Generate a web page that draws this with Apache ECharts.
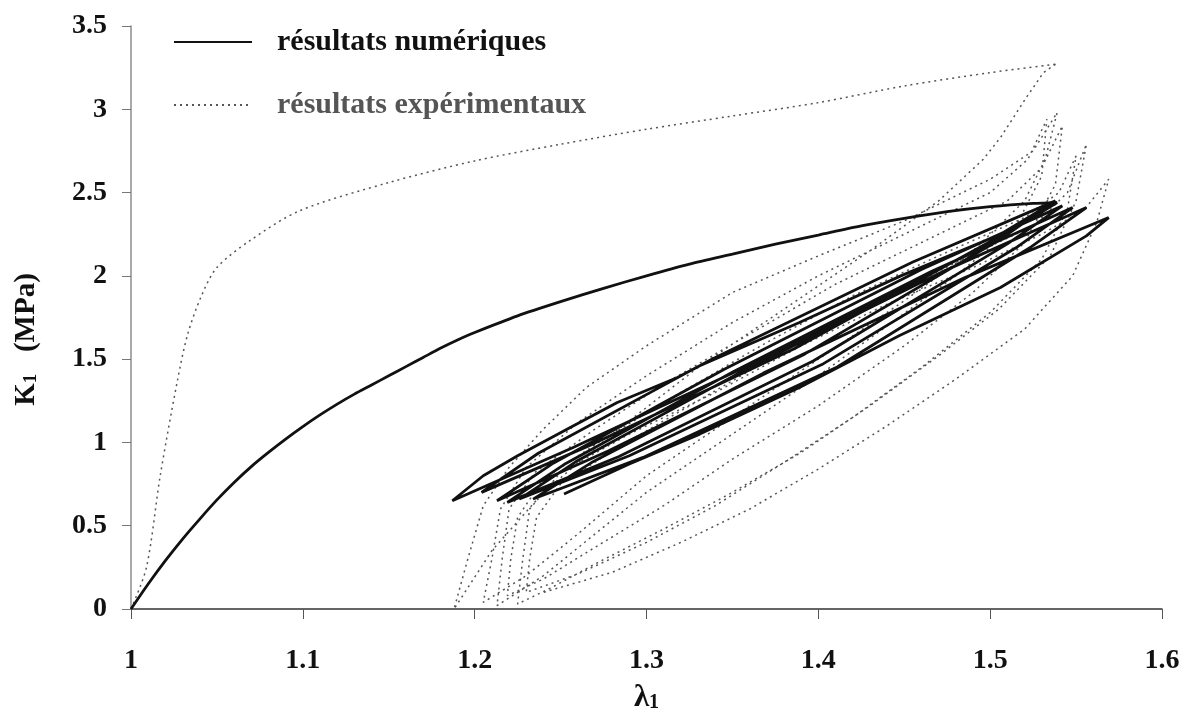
<!DOCTYPE html>
<html>
<head>
<meta charset="utf-8">
<title>K1 - lambda1</title>
<script src="https://cdn.jsdelivr.net/npm/echarts@6.0.0/dist/echarts.min.js"></script>
<style>
html,body{margin:0;padding:0;background:#fff;}
#chart{width:1188px;height:718px;}
</style>
</head>
<body>
<div id="chart"></div>
<script>
// 图例名称
var serieNames = ['résultats numériques', 'résultats expérimentaux'];

// 坐标轴刻度
var xTicks = [1, 1.1, 1.2, 1.3, 1.4, 1.5, 1.6];
var yTicks = [0, 0.5, 1, 1.5, 2, 2.5, 3, 3.5];

// 数值结果：首次加载曲线 [lambda1, K1]
var numLoad = [
	[1, 0], [1.01, 0.15], [1.02, 0.29], [1.03, 0.42], [1.04, 0.54], [1.05, 0.655],
	[1.06, 0.76], [1.07, 0.855], [1.08, 0.94], [1.09, 1.02], [1.1, 1.095], [1.11, 1.165],
	[1.12, 1.23], [1.13, 1.29], [1.14, 1.345], [1.15, 1.4], [1.16, 1.455], [1.17, 1.51],
	[1.18, 1.565], [1.19, 1.615], [1.2, 1.66], [1.225, 1.76], [1.25, 1.845], [1.275, 1.925],
	[1.3, 2.0], [1.325, 2.07], [1.35, 2.13], [1.375, 2.19], [1.4, 2.245], [1.425, 2.3],
	[1.45, 2.345], [1.475, 2.385], [1.5, 2.415], [1.525, 2.435], [1.539, 2.44]
];

// 数值结果：循环（卸载/再加载）
var numCycles = [
	[1.539, 2.44],
	[1.504, 2.22], [1.381, 1.565], [1.257, 0.968], [1.187, 0.65],
	[1.205, 0.80], [1.225, 0.92], [1.254, 1.08], [1.283, 1.24], [1.318, 1.39], [1.331, 1.46],
	[1.389, 1.72], [1.448, 2.0], [1.506, 2.25], [1.535, 2.43],
	[1.502, 2.217], [1.386, 1.562], [1.270, 0.996], [1.204, 0.70],
	[1.237, 0.935], [1.338, 1.50], [1.455, 2.083], [1.538, 2.45],
	[1.506, 2.22], [1.392, 1.53], [1.278, 0.95], [1.213, 0.65],
	[1.246, 0.877], [1.345, 1.438], [1.460, 2.038], [1.542, 2.42],
	[1.510, 2.192], [1.397, 1.489], [1.284, 0.916], [1.219, 0.64],
	[1.252, 0.867], [1.351, 1.428], [1.466, 2.028], [1.548, 2.41],
	[1.516, 2.175], [1.403, 1.473], [1.290, 0.92], [1.226, 0.66],
	[1.259, 0.885], [1.358, 1.44], [1.474, 2.033], [1.556, 2.41],
	[1.524, 2.175], [1.411, 1.453], [1.298, 0.91], [1.234, 0.66],
	[1.268, 0.879], [1.368, 1.416], [1.485, 1.988], [1.569, 2.35],
	[1.556, 2.24], [1.506, 1.93], [1.447, 1.64], [1.389, 1.33], [1.331, 1.05], [1.29, 0.87], [1.252, 0.69]
];

// 实验结果：首次加载曲线
var expLoad = [
	[1.0, 0], [1.009, 0.25], [1.017, 0.8], [1.027, 1.37], [1.033, 1.65], [1.041, 1.88],
	[1.05, 2.05], [1.069, 2.21], [1.098, 2.39], [1.15, 2.56], [1.2, 2.69], [1.25, 2.79],
	[1.3, 2.88], [1.35, 2.96], [1.4, 3.04], [1.45, 3.14], [1.5, 3.22], [1.538, 3.27]
];

// 实验结果：循环
var expCycles = [
	[1.538, 3.27],
	[1.531, 3.22], [1.521, 3.07], [1.506, 2.83], [1.496, 2.70], [1.47, 2.45], [1.43, 2.15],
	[1.38, 1.8], [1.33, 1.45], [1.28, 1.05], [1.24, 0.7], [1.21, 0.35], [1.188, 0.0],
	[1.196, 0.3], [1.205, 0.62], [1.22, 0.85], [1.24, 1.08], [1.265, 1.33], [1.3, 1.58],
	[1.35, 1.9], [1.4, 2.12], [1.45, 2.33], [1.5, 2.58], [1.525, 2.75], [1.539, 2.98],
	[1.532, 2.7], [1.52, 2.45], [1.49, 2.15], [1.45, 1.85], [1.4, 1.5], [1.35, 1.15],
	[1.3, 0.8], [1.26, 0.45], [1.23, 0.2], [1.205, 0.04],
	[1.21, 0.3], [1.215, 0.6], [1.23, 0.85], [1.26, 1.12], [1.3, 1.4], [1.35, 1.72],
	[1.4, 2.0], [1.45, 2.25], [1.5, 2.5], [1.522, 2.7], [1.533, 2.94],
	[1.53, 2.6], [1.515, 2.3], [1.48, 2.0], [1.44, 1.7], [1.4, 1.4], [1.35, 1.05],
	[1.3, 0.7], [1.27, 0.45], [1.24, 0.2], [1.213, 0.02],
	[1.216, 0.3], [1.22, 0.6], [1.235, 0.82], [1.27, 1.08], [1.31, 1.35], [1.36, 1.65],
	[1.41, 1.95], [1.46, 2.2], [1.51, 2.45], [1.53, 2.65], [1.542, 2.90],
	[1.538, 2.55], [1.52, 2.2], [1.49, 1.9], [1.45, 1.58], [1.4, 1.22], [1.35, 0.9],
	[1.31, 0.62], [1.27, 0.37], [1.24, 0.18], [1.219, 0.08],
	[1.221, 0.3], [1.225, 0.55], [1.24, 0.78], [1.275, 1.02], [1.32, 1.3], [1.37, 1.6],
	[1.42, 1.88], [1.47, 2.12], [1.52, 2.35], [1.54, 2.5], [1.55, 2.72],
	[1.545, 2.4], [1.53, 2.1], [1.5, 1.78], [1.46, 1.45], [1.42, 1.15], [1.38, 0.88],
	[1.34, 0.62], [1.3, 0.4], [1.26, 0.21], [1.23, 0.1],
	[1.232, 0.3], [1.236, 0.55], [1.25, 0.75], [1.285, 0.98], [1.33, 1.25], [1.38, 1.55],
	[1.43, 1.82], [1.48, 2.08], [1.525, 2.3], [1.545, 2.5], [1.556, 2.79],
	[1.55, 2.45], [1.535, 2.12], [1.505, 1.8], [1.47, 1.52], [1.43, 1.22], [1.39, 0.94],
	[1.35, 0.7], [1.31, 0.48], [1.27, 0.27], [1.245, 0.13], [1.225, 0.03],
	[1.228, 0.3], [1.232, 0.6], [1.25, 0.82], [1.29, 1.05], [1.34, 1.3], [1.39, 1.58],
	[1.44, 1.83], [1.49, 2.05], [1.53, 2.25], [1.555, 2.4], [1.569, 2.58],
	[1.562, 2.32], [1.548, 2.0], [1.52, 1.68], [1.48, 1.38], [1.44, 1.1], [1.4, 0.84],
	[1.36, 0.6], [1.32, 0.4], [1.28, 0.22], [1.24, 0.1]
];

var serif = '"Liberation Serif", "DejaVu Serif", serif';

var myChart = echarts.init(document.getElementById('chart'));

var expLine = {color: '#555', width: 1.5, type: [2, 4]};
var numLine = {color: '#111', width: 2.8};

var option = {
	animation: false,
	backgroundColor: '#fff',
	grid: {
		left: 131,
		right: 26,
		top: 26,
		bottom: 104
	},
	legend: {
		orient: 'vertical',
		left: 168,
		top: 22,
		itemWidth: 78,
		itemHeight: 14,
		itemGap: 33,
		itemStyle: {color: 'transparent', borderColor: 'transparent', borderWidth: 0},
		data: [
			{name: serieNames[0], textStyle: {color: '#111'}},
			{name: serieNames[1], textStyle: {color: '#555'}}
		],
		textStyle: {
			fontFamily: serif,
			fontWeight: 'bold',
			fontSize: 30,
			padding: [0, 0, 0, 20]
		}
	},
	xAxis: {
		type: 'value',
		min: xTicks[0],
		max: xTicks[xTicks.length - 1],
		interval: 0.1,
		name: '{l|λ}{s|1}',
		nameLocation: 'middle',
		nameGap: 70,
		nameTextStyle: {
			rich: {
				l: {fontFamily: serif, fontWeight: 'bold', fontSize: 31, color: '#111', verticalAlign: 'bottom'},
				s: {fontFamily: serif, fontWeight: 'bold', fontSize: 20, color: '#111', verticalAlign: 'bottom', padding: [14, 0, 0, 0]}
			}
		},
		axisLine: {lineStyle: {color: '#333', width: 1.5}},
		axisTick: {length: 10, lineStyle: {color: '#555', width: 1}},
		axisLabel: {
			margin: 38,
			fontFamily: serif,
			fontWeight: 'bold',
			fontSize: 28,
			color: '#111'
		},
		splitLine: {show: false}
	},
	yAxis: {
		type: 'value',
		min: yTicks[0],
		max: yTicks[yTicks.length - 1],
		interval: 0.5,
		name: '{k|K}{s|1}{k|   (MPa)}',
		nameLocation: 'middle',
		nameGap: 90,
		nameTextStyle: {
			padding: [0, 44, 0, 0],
			rich: {
				k: {fontFamily: serif, fontWeight: 'bold', fontSize: 29, color: '#111', verticalAlign: 'bottom'},
				s: {fontFamily: serif, fontWeight: 'bold', fontSize: 19, color: '#111', verticalAlign: 'bottom', padding: [13, 0, 0, 0]}
			}
		},
		axisLine: {show: true, lineStyle: {color: '#8c8c8c', width: 1.5}},
		axisTick: {show: true, length: 9, lineStyle: {color: '#777', width: 1}},
		axisLabel: {
			margin: 24,
			fontFamily: serif,
			fontWeight: 'bold',
			fontSize: 28,
			color: '#111'
		},
		splitLine: {show: false}
	},
	series: [
		{
			name: serieNames[1],
			type: 'line',
			symbol: 'none',
			smooth: 0.3,
			z: 2,
			lineStyle: expLine,
			itemStyle: {color: '#555'},
			data: expLoad
		},
		{
			name: serieNames[1],
			type: 'line',
			symbol: 'none',
			z: 2,
			lineStyle: expLine,
			itemStyle: {color: '#555'},
			data: expCycles
		},
		{
			name: serieNames[0],
			type: 'line',
			symbol: 'none',
			smooth: 0.25,
			z: 3,
			lineStyle: numLine,
			itemStyle: {color: '#111'},
			data: numLoad
		},
		{
			name: serieNames[0],
			type: 'line',
			symbol: 'none',
			z: 3,
			lineStyle: numLine,
			itemStyle: {color: '#111'},
			data: numCycles
		}
	]
};
myChart.setOption(option);
</script>
</body>
</html>
